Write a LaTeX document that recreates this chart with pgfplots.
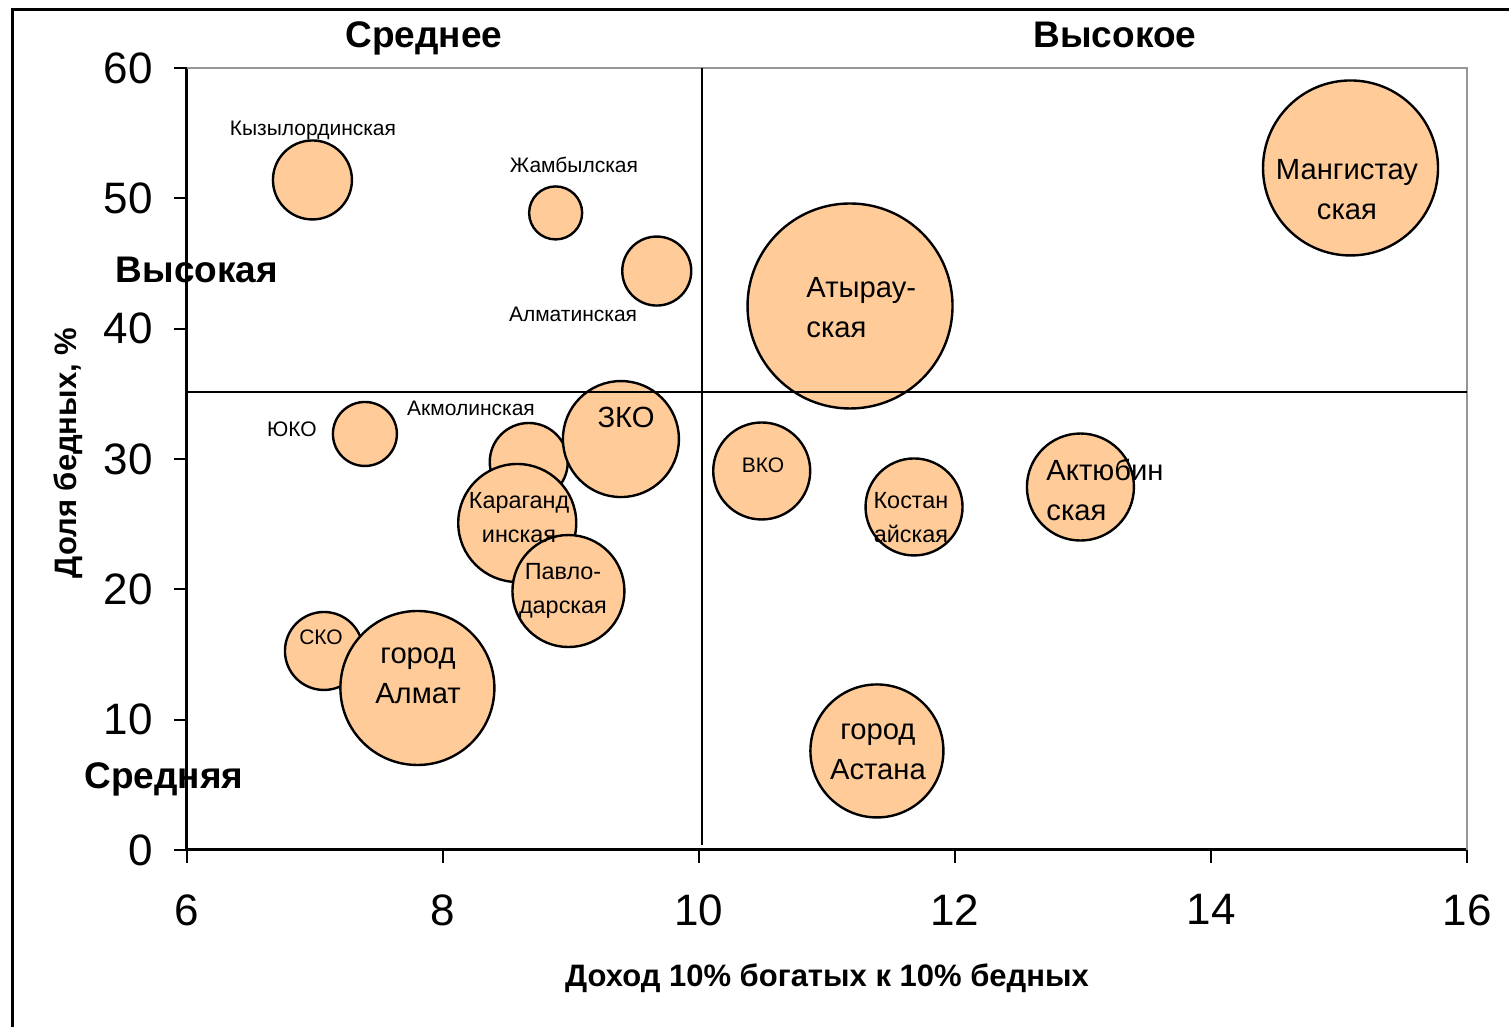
\documentclass[border=0pt]{standalone}
\usepackage{fontspec}
\setmainfont{Liberation Sans}
\usepackage{pgfplots}
\pgfplotsset{compat=1.18}
\usepackage{pgfplotstable}
\definecolor{peach}{RGB}{255,204,153}
\definecolor{spine}{RGB}{150,150,150}

\pgfplotstableread{
x y r
8.67 29.77 19.5
8.58 25.09 29.5
8.98 19.87 28
9.39 31.53 29
7.07 15.27 19.5
7.80 12.43 38.5
6.98 51.41 19.75
8.88 48.88 13.25
9.67 44.42 17.25
11.18 41.74 51.25
15.09 52.33 43.75
7.39 31.92 16
10.49 29.08 24.25
11.68 26.32 24.25
12.98 27.85 26.75
11.39 7.60 33.25
}\bubbles

\begin{document}
\begin{tikzpicture}
\begin{axis}[
  set layers=standard,
  scale only axis, width=640pt, height=391pt,
  at={(0,0)}, anchor=south west,
  xmin=6, xmax=16, ymin=0, ymax=60,
  xtick={6,8,10,12,14,16}, ytick={0,10,20,30,40,50,60},
  axis x line*=bottom, axis y line*=left,
  axis line style={black, line width=1.5pt, -},
  tick style={black, line width=1pt},
  tick align=outside, major tick length=6.5pt,
  tick label style={font=\fontsize{22}{26}\selectfont},
  /pgf/number format/assume math mode=true,
  xticklabel style={anchor=north, inner sep=0pt, yshift=-15.5pt},
  yticklabel style={anchor=east, inner sep=0pt, xshift=-10.5pt},
  xlabel={Доход 10\% богатых к 10\% бедных},
  ylabel={Доля бедных, \%},
  label style={font=\bfseries\fontsize{15.5}{18}\selectfont},
  xlabel style={at={(axis description cs:0.5,-0.1637)}, anchor=center},
  ylabel style={at={(axis description cs:-0.093,0.5077)}, anchor=center},
  clip=false,
]
\draw[spine, line width=1pt] (rel axis cs:0,1) -- (rel axis cs:1,1) -- (rel axis cs:1,0);

\addplot[scatter, only marks, mark=*,
  scatter/use mapped color={draw=black, fill=peach},
  mark options={line width=1.2pt},
  visualization depends on={\thisrow{r} \as \rr},
  scatter/@pre marker code/.append style={/tikz/mark size=\rr pt}]
  table[x=x, y=y] {\bubbles};

\addplot[on layer=axis foreground, black, line width=1pt, no marks] coordinates {(10.02,60) (10.02,0.4)};
\addplot[on layer=axis foreground, black, line width=1pt, no marks] coordinates {(6,35.14) (16,35.14)};

\begin{pgfonlayer}{axis foreground}
% small labels
\begin{scope}[every node/.style={inner sep=0pt}, font=\fontsize{10.5}{12.6}\selectfont]
\node at (axis cs:6.984,55.17) {Кызылординская};
\node at (axis cs:9.023,52.56) {Жамбылская};
\node at (axis cs:9.016,41.13) {Алматинская};
\node at (axis cs:6.82,32.30) {ЮКО};
\node at (axis cs:8.219,33.91) {Акмолинская};
\node at (axis cs:7.047,16.34) {СКО};
\node at (axis cs:10.5,29.54) {ВКО};
\end{scope}
% medium labels
\begin{scope}[every node/.style={inner sep=0pt}, font=\fontsize{11.7}{17}\selectfont]
\node[align=center] at (axis cs:8.594,25.47) {Караганд\\инская};
\node[align=center] at (axis cs:8.9375,19.87) {Павло-\\дарская};
\node[align=center] at (axis cs:11.656,25.47) {Костан\\айская};
\end{scope}
% large labels
\begin{scope}[every node/.style={inner sep=0pt}, font=\fontsize{14.6}{20}\selectfont]
\node[align=left, anchor=west] at (axis cs:10.836,41.59) {Атырау-\\ская};
\node[align=center] at (axis cs:15.0625,50.64) {Мангистау\\ская};
\node at (axis cs:9.43,33.15) {ЗКО};
\node[align=center] at (axis cs:7.805,13.35) {город\\Алмат};
\node[align=left, anchor=west] at (axis cs:12.711,27.62) {Актюбин\\ская};
\node[align=center] at (axis cs:11.398,7.52) {город\\Астана};
\end{scope}
% quadrant labels
\begin{scope}[every node/.style={inner sep=0pt}, font=\bfseries\fontsize{18.5}{22}\selectfont]
\node[anchor=base] at (axis cs:7.852,61.535) {Среднее};
\node[anchor=base] at (axis cs:13.25,61.535) {Высокое};
\node[anchor=base] at (axis cs:6.078,43.58) {Высокая};
\node[anchor=base] at (axis cs:5.82,4.68) {Средняя};
\end{scope}
\end{pgfonlayer}

\draw[black, line width=1.5pt] (axis cs:4.633,-16) -- (axis cs:4.633,64.45) -- (axis cs:16.6,64.45);
\coordinate (bbSW) at (axis cs:4.5391,-13.581);
\coordinate (bbNE) at (axis cs:16.3281,65.218);
\end{axis}
\pgfresetboundingbox
\path[use as bounding box] (bbSW) rectangle (bbNE);
\end{tikzpicture}
\end{document}
